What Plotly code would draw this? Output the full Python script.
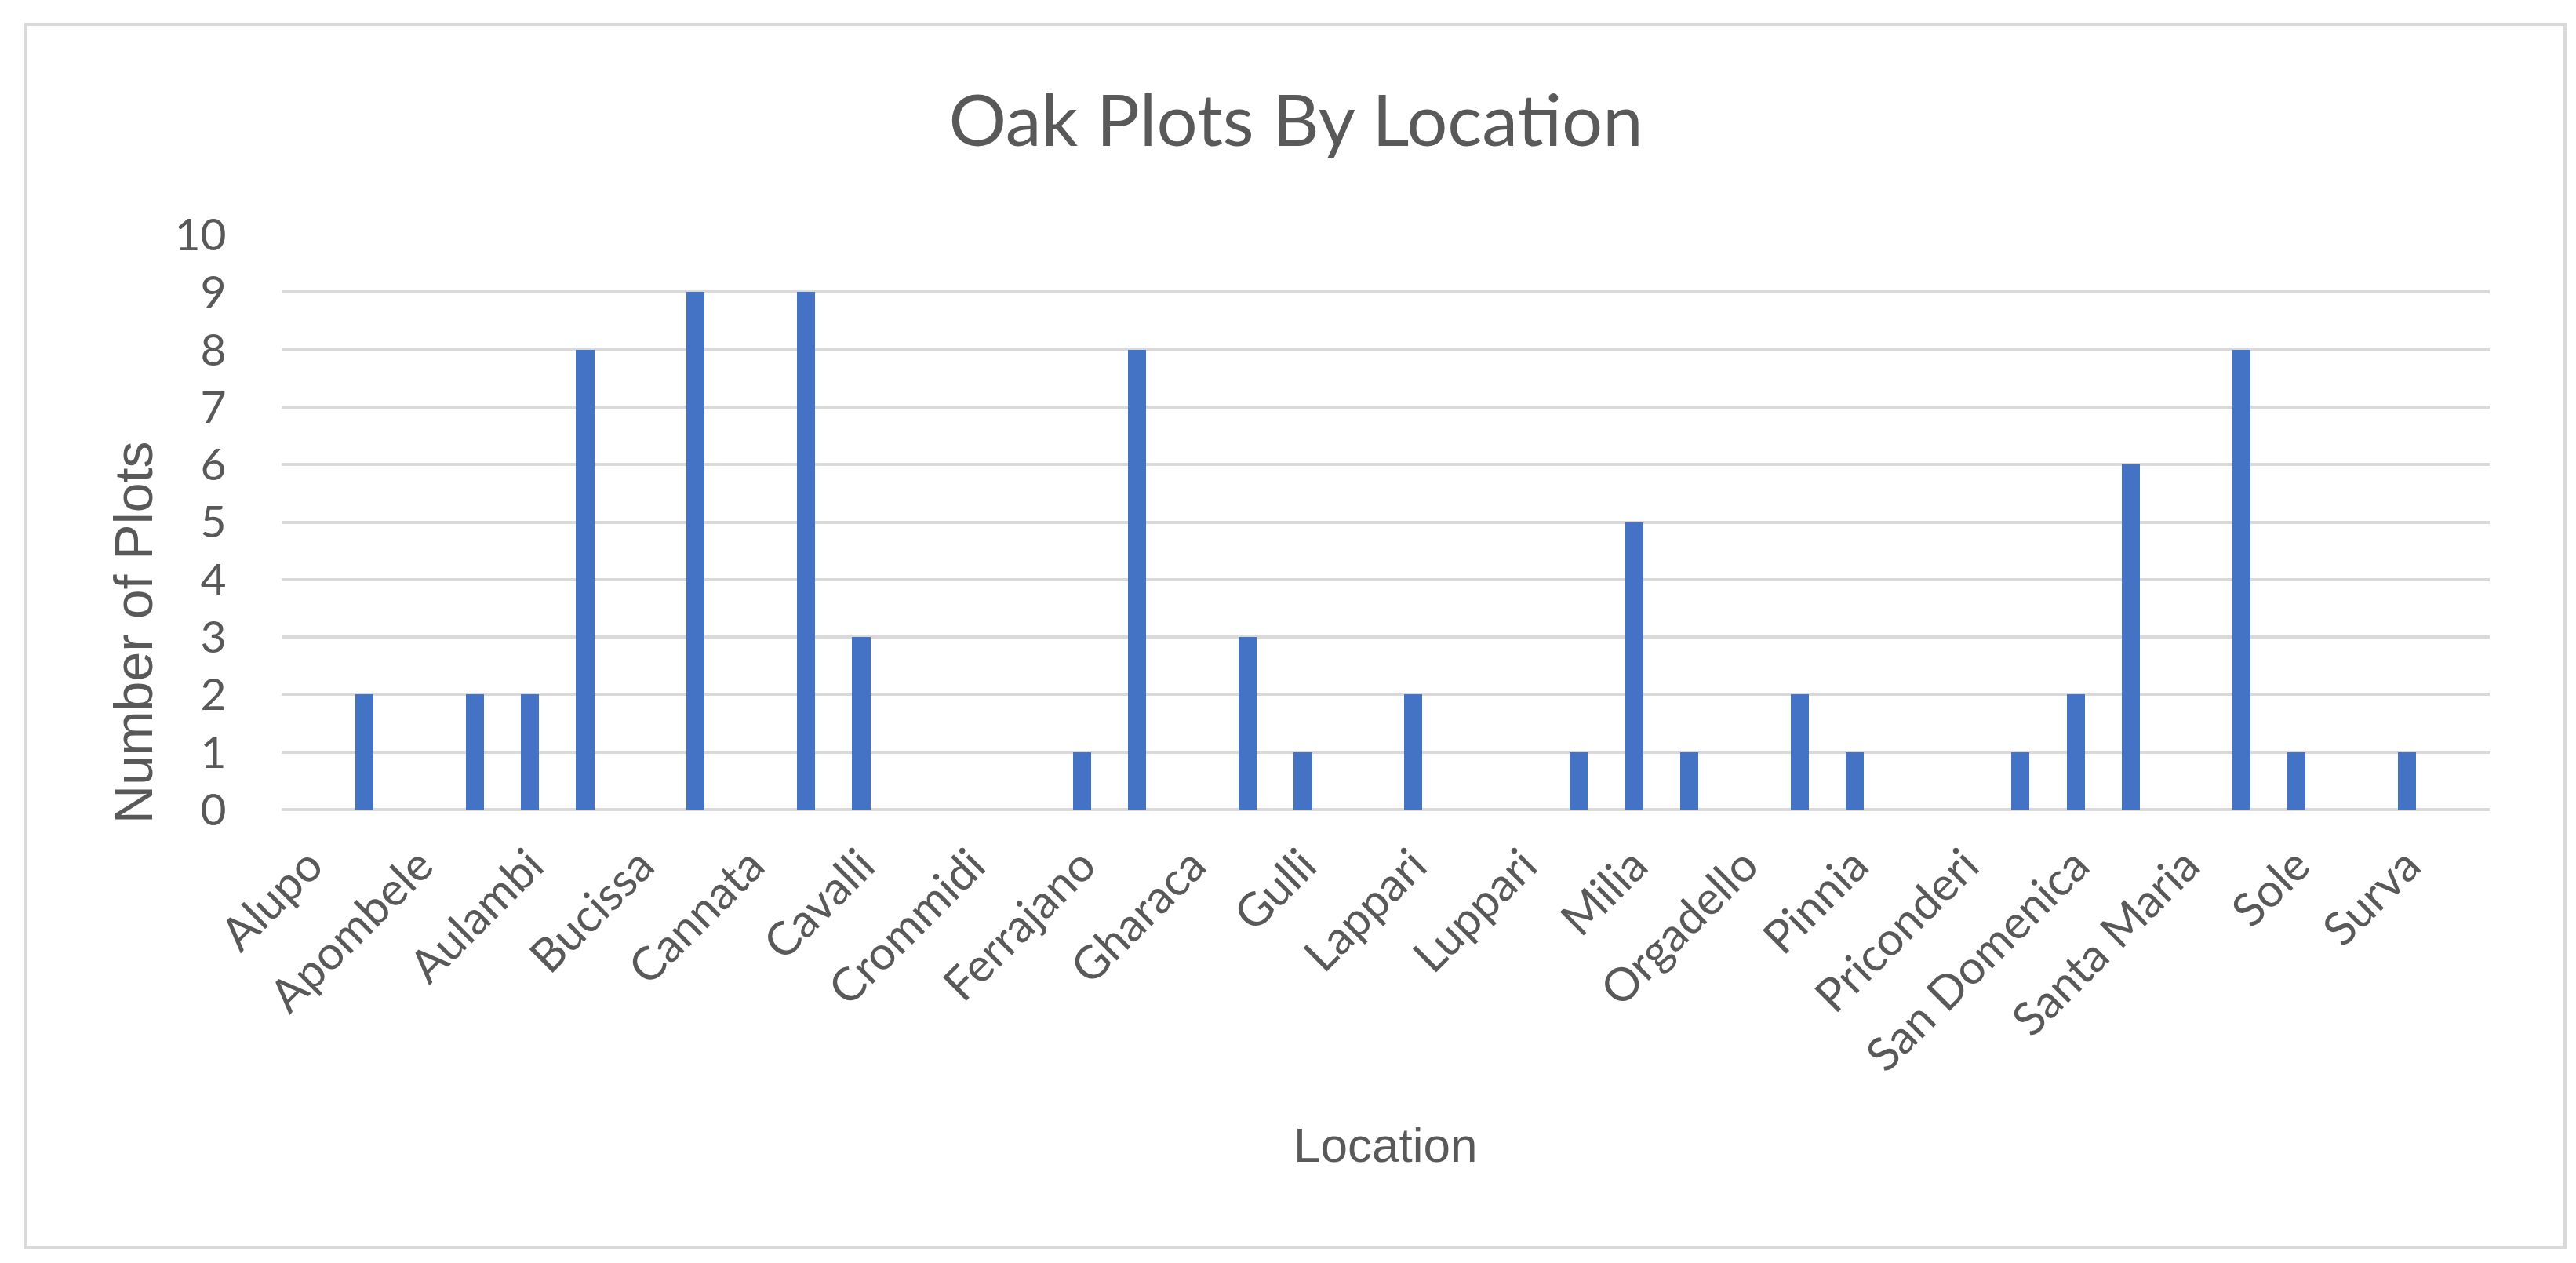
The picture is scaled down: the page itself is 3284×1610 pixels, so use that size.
import plotly.graph_objects as go

# Labelled locations (every other category carries a visible label)
labels = ["Alupo", "Apombele", "Aulambi", "Bucissa", "Cannata", "Cavalli",
          "Crommidi", "Ferrajano", "Gharaca", "Gulli", "Lappari", "Luppari",
          "Milia", "Orgadello", "Pinnia", "Priconderi", "San Domenica",
          "Santa Maria", "Sole", "Surva"]

# Number of plots for each of the 40 category slots (in order)
values = [0, 2, 0, 2, 2, 8, 0, 9, 0, 9,
          3, 0, 0, 0, 1, 8, 0, 3, 1, 0,
          2, 0, 0, 1, 5, 1, 0, 2, 1, 0,
          0, 1, 2, 6, 0, 8, 1, 0, 1, 0]

y_ticks = list(range(0, 11))

W, H = 3284, 1610
L, R, T, B = 351, 3166, 291, 1024
pw, ph = R - L, B - T

def px(x):
    return (x - L) / pw

def py(y):
    return (B - y) / ph

slots = list(range(len(values)))
grey_text = "#595959"
grid = "#d9d9d9"

fig = go.Figure()
fig.add_trace(go.Bar(
    x=slots, y=values, width=0.33,
    marker=dict(color="#4472C4", line=dict(width=0)),
    showlegend=False,
))

fig.update_layout(
    width=W, height=H,
    margin=dict(l=L, r=W - R, t=T, b=H - B, pad=0),
    paper_bgcolor="white", plot_bgcolor="white",
    title=dict(text="Oak Plots By Location", x=px(1644), xref="paper",
               xanchor="center", y=1 - 146 / H, yref="container", yanchor="middle",
               font=dict(family="Lato", size=92, color=grey_text)),
    bargap=0,
)
fig.update_xaxes(
    range=[-0.5, len(values) - 0.5],
    tickmode="array", tickvals=slots[::2], ticktext=labels,
    tickangle=-45, ticks="outside", ticklen=12, tickcolor="rgba(0,0,0,0)",
    tickfont=dict(family="Lato", size=59, color=grey_text),
    showgrid=False, zeroline=False, showline=False,
)
fig.update_yaxes(
    range=[0, 10], tickmode="array", tickvals=y_ticks,
    ticks="outside", ticklen=58, tickcolor="rgba(0,0,0,0)",
    tickfont=dict(family="Lato", size=57, color=grey_text),
    showgrid=True, gridcolor=grid, gridwidth=4,
    zeroline=True, zerolinecolor=grid, zerolinewidth=4, showline=False,
)

fig.add_annotation(text="Number of Plots", textangle=-90, showarrow=False,
                   xref="paper", yref="paper", x=px(162), y=py(798),
                   xanchor="center", yanchor="middle",
                   font=dict(family="Liberation Sans", size=68, color=grey_text))
fig.add_annotation(text="Location", showarrow=False,
                   xref="paper", yref="paper", x=px(1758), y=py(1451),
                   xanchor="center", yanchor="middle",
                   font=dict(family="Liberation Sans Narrow, Liberation Sans", size=62, color=grey_text))

fig.add_shape(type="rect", xref="paper", yref="paper",
              x0=px(25), x1=px(3262), y0=py(1582), y1=py(23),
              line=dict(color=grid, width=4), fillcolor="rgba(0,0,0,0)", layer="below")

fig.write_html("out.html")
